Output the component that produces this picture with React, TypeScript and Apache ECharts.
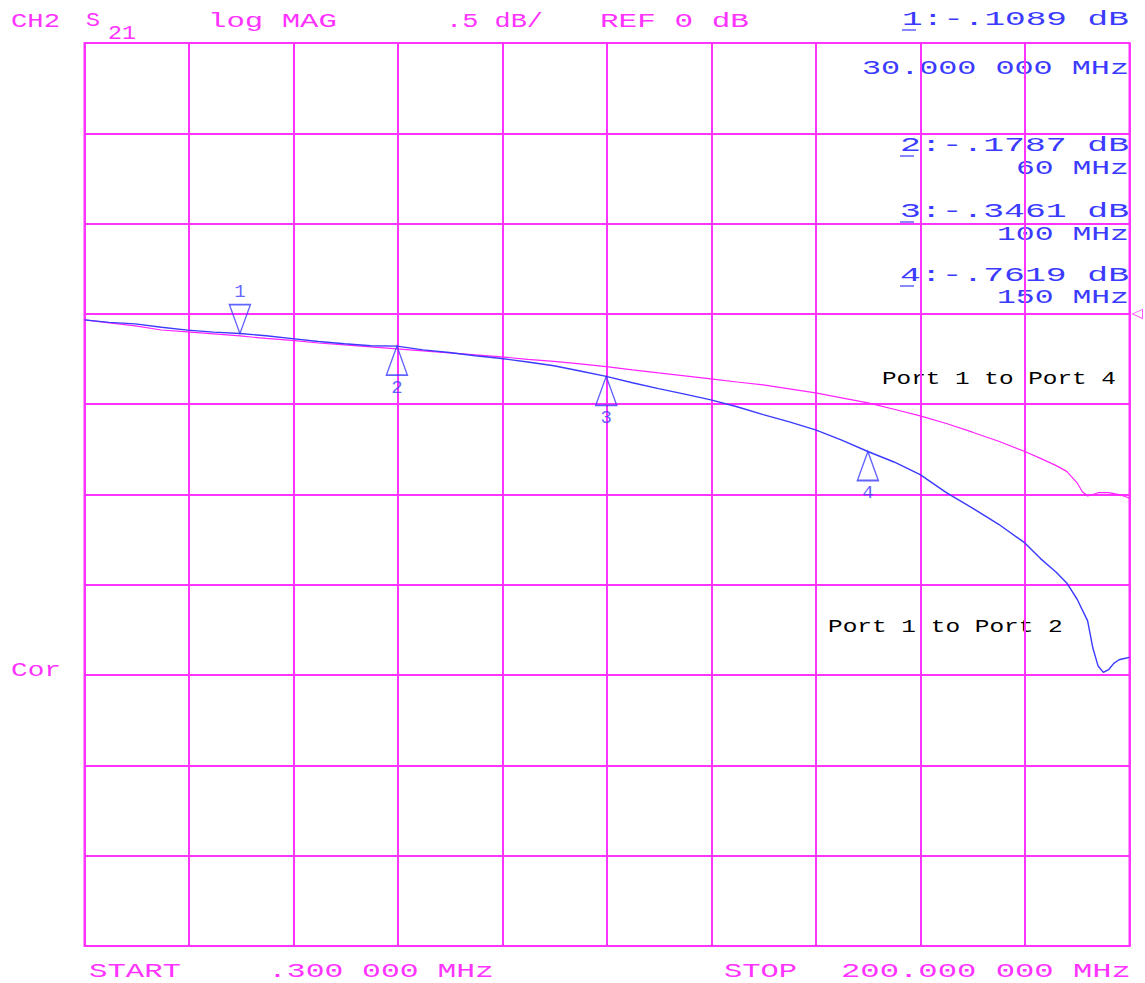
import React, { useEffect, useRef } from "react";
import * as echarts from "echarts";

// ---- data ----
const startMHz = 0.3;
const stopMHz = 200;
const refDb = 0;
const dbPerDiv = 0.5;
const yMinDb = -3.5;
const yMaxDb = 1.5;

const freqMHz = [
  0.3, 5, 10, 15, 20, 25, 30, 35, 40, 45, 50, 55, 60, 65, 70, 75, 80, 85, 90, 95,
  100, 105, 110, 115, 120, 125, 130, 135, 140, 145, 150, 155, 160, 165, 170, 175,
  180, 183, 186, 188, 190, 191, 192, 193, 194, 195, 196, 197, 198, 199, 200,
];

// Port 1 to Port 2 (blue)
const port12Db = [
  -0.033, -0.047, -0.055, -0.074, -0.09, -0.101, -0.1089, -0.121, -0.137, -0.153,
  -0.165, -0.176, -0.1787, -0.199, -0.214, -0.232, -0.247, -0.266, -0.287, -0.316,
  -0.3461, -0.381, -0.414, -0.444, -0.476, -0.514, -0.558, -0.598, -0.642, -0.699,
  -0.7619, -0.82, -0.89, -0.99, -1.075, -1.165, -1.268, -1.355, -1.43, -1.49,
  -1.58, -1.64, -1.7, -1.85, -1.95, -1.985, -1.97, -1.935, -1.915, -1.908, -1.902,
];

// Port 1 to Port 4 (magenta)
const port14Db = [
  -0.033, -0.05, -0.066, -0.089, -0.1, -0.111, -0.122, -0.136, -0.147, -0.161,
  -0.172, -0.183, -0.194, -0.205, -0.216, -0.227, -0.238, -0.252, -0.263, -0.277,
  -0.292, -0.31, -0.327, -0.343, -0.36, -0.377, -0.393, -0.415, -0.437, -0.465,
  -0.493, -0.528, -0.565, -0.607, -0.655, -0.705, -0.762, -0.8, -0.84, -0.872,
  -0.936, -0.985, -1.008, -1.0, -0.99, -0.99, -0.99, -0.995, -1.0, -1.01, -1.02,
];

const markerFreqMHz = [30, 60, 100, 150];
const markerDb = [-0.1089, -0.1787, -0.3461, -0.7619];
const activeMarker = 0;

const MAG = "#ff33ff";
const BLUE = "#3b3bff";
const FONT = "'Liberation Mono', monospace";

let measureCtx: CanvasRenderingContext2D | null = null;
function measure(text: string, font: string): number {
  if (!measureCtx) measureCtx = document.createElement("canvas").getContext("2d");
  measureCtx!.font = font;
  return measureCtx!.measureText(text).width;
}

function fitText(text: string, x1: number, x2: number, yc: number, color: string, size: number) {
  const font = `${size}px ${FONT}`;
  const w = measure(text, font);
  return {
    type: "text",
    x: x1,
    y: yc,
    scaleX: (x2 - x1) / w,
    silent: true,
    style: {
      text,
      fill: color,
      font,
      align: "left",
      verticalAlign: "middle",
      stroke: "#fff",
      lineWidth: 0.45,
    },
  };
}

function underline(x1: number, y: number, color: string) {
  return {
    type: "line",
    silent: true,
    shape: { x1, y1: y, x2: x1 + 14, y2: y },
    style: { stroke: color, lineWidth: 1.2 },
  };
}

function fmtDb(v: number) {
  return v.toFixed(4).replace("0.", ".");
}

export default function App() {
  const ref = useRef<HTMLDivElement>(null);

  useEffect(() => {
    if (!ref.current) return;
    const chart = echarts.init(ref.current, undefined, { renderer: "svg" });

    const readoutRows = [
      { y1: 20, y2: 69, x1: 902, fx1: 862 },
      { y1: 146, y2: 169, x1: 900, fx1: 1016 },
      { y1: 212, y2: 235, x1: 900, fx1: 997 },
      { y1: 276, y2: 298, x1: 900, fx1: 997 },
    ];

    const graphics: any[] = [
      fitText("CH2", 11, 60, 21, MAG, 21),
      fitText("S", 86, 100, 21, MAG, 21),
      fitText("21", 108, 136, 34, MAG, 21),
      fitText("log MAG", 208, 337, 21, MAG, 21),
      fitText(`.${String(dbPerDiv).split(".")[1]} dB/`, 446, 543, 21, MAG, 21),
      fitText(`REF ${refDb} dB`, 600, 749, 21, MAG, 21),
      fitText("START", 89, 181, 971, MAG, 21),
      fitText(`.${startMHz.toFixed(3).split(".")[1]} 000 MHz`, 268, 494, 971, MAG, 21),
      fitText("STOP", 724, 797, 971, MAG, 21),
      fitText(`${stopMHz.toFixed(3)} 000 MHz`, 841, 1131, 971, MAG, 21),
      fitText("Cor", 11, 61, 670, MAG, 21),
      fitText("Port 1 to Port 4", 882, 1116, 379, "#000", 19),
      fitText("Port 1 to Port 2", 828, 1063, 627, "#000", 19),
    ];

    markerFreqMHz.forEach((f, i) => {
      const r = readoutRows[i];
      graphics.push(fitText(`${i + 1}:${fmtDb(markerDb[i])} dB`, r.x1, 1129, r.y1, BLUE, 20));
      graphics.push(underline(r.x1, r.y1 + 10, BLUE));
      const fText = i === activeMarker ? `${f.toFixed(3)} 000 MHz` : `${f} MHz`;
      graphics.push(fitText(fText, r.fx1, 1129, r.y2, BLUE, 20));
    });

    const markerData = markerFreqMHz.map((f, i) => ({ value: [f, markerDb[i]], name: String(i + 1) }));

    chart.setOption({
      animation: false,
      backgroundColor: "#fff",
      grid: {
        left: 84.5,
        right: 15.5,
        top: 43,
        bottom: 37,
        show: true,
        borderColor: MAG,
        borderWidth: 2,
        backgroundColor: "transparent",
      },
      xAxis: [
        { type: "value", min: startMHz, max: stopMHz, show: false },
        {
          type: "value",
          min: 0,
          max: 10,
          interval: 1,
          axisLine: { show: false },
          axisTick: { show: false },
          axisLabel: { show: false },
          splitLine: { show: true, lineStyle: { color: MAG, width: 2 } },
        },
      ],
      yAxis: {
        type: "value",
        min: yMinDb,
        max: yMaxDb,
        interval: dbPerDiv,
        axisLine: { show: false },
        axisTick: { show: false },
        axisLabel: { show: false },
        splitLine: { show: true, lineStyle: { color: MAG, width: 2 } },
      },
      series: [
        {
          type: "line",
          name: "Port 1 to Port 4",
          xAxisIndex: 0,
          data: freqMHz.map((f, i) => [f, port14Db[i]]),
          symbol: "none",
          lineStyle: { color: "#ff22ff", width: 1.2 },
        },
        {
          type: "line",
          name: "Port 1 to Port 2",
          xAxisIndex: 0,
          data: freqMHz.map((f, i) => [f, port12Db[i]]),
          symbol: "none",
          lineStyle: { color: BLUE, width: 1.4 },
        },
        {
          type: "scatter",
          xAxisIndex: 0,
          clip: false,
          data: markerData.filter((_, i) => i === activeMarker),
          symbol: "path://M0,0 L20,0 L10,29 Z",
          symbolSize: [21, 29],
          symbolOffset: [0, -14.5],
          itemStyle: { color: "rgba(0,0,0,0)", borderColor: BLUE, borderWidth: 1.5 },
          label: {
            show: true,
            position: "top",
            distance: 2,
            formatter: "{b}",
            color: BLUE,
            fontFamily: FONT,
            fontSize: 19,
          },
          z: 5,
        },
        {
          type: "scatter",
          xAxisIndex: 0,
          clip: false,
          data: markerData.filter((_, i) => i !== activeMarker),
          symbol: "path://M10,0 L20,29 L0,29 Z",
          symbolSize: [21, 29],
          symbolOffset: [0, 14.5],
          itemStyle: { color: "rgba(0,0,0,0)", borderColor: BLUE, borderWidth: 1.5 },
          label: {
            show: true,
            position: "bottom",
            distance: 2,
            formatter: "{b}",
            color: BLUE,
            fontFamily: FONT,
            fontSize: 19,
          },
          z: 5,
        },
        {
          type: "scatter",
          xAxisIndex: 0,
          clip: false,
          data: [[stopMHz, refDb]],
          symbol: "path://M0,5 L10,0 L10,10 Z",
          symbolSize: [10, 9],
          symbolOffset: [8, 0],
          itemStyle: { color: "rgba(0,0,0,0)", borderColor: MAG, borderWidth: 1 },
          z: 5,
        },
      ],
      graphic: graphics,
    });

    return () => chart.dispose();
  }, []);

  return (
    <div
      ref={ref}
      style={{ position: "absolute", left: 0, top: 0, width: 1145, height: 983, background: "#fff" }}
    />
  );
}
